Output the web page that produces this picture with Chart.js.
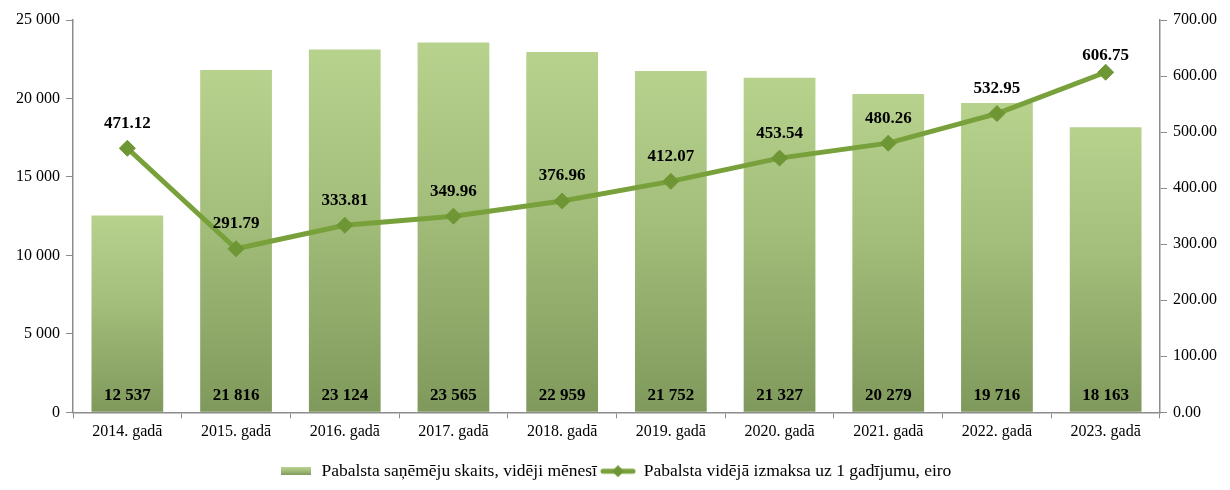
<!DOCTYPE html>
<html>
<head>
<meta charset="utf-8">
<script src="https://cdn.jsdelivr.net/npm/chart.js@4"></script>
<style>
  html, body { margin: 0; padding: 0; background: #fff; }
  #wrap { width: 1230px; height: 490px; }
</style>
</head>
<body>
<div id="wrap"><canvas id="chart"></canvas></div>
<script>
const years = ['2014. gadā', '2015. gadā', '2016. gadā', '2017. gadā', '2018. gadā',
               '2019. gadā', '2020. gadā', '2021. gadā', '2022. gadā', '2023. gadā'];
const recipients = [12537, 21816, 23124, 23565, 22959, 21752, 21327, 20279, 19716, 18163];
const avgPayment = [471.12, 291.79, 333.81, 349.96, 376.96, 412.07, 453.54, 480.26, 532.95, 606.75];
const barLabel = 'Pabalsta saņēmēju skaits, vidēji mēnesī';
const lineLabel = 'Pabalsta vidējā izmaksa uz 1 gadījumu, eiro';

const FONT = '"Liberation Serif", "Times New Roman", serif';
const LINE_COLOR = '#78a13b';
const MARK_COLOR = '#6f9635';
const AXIS_COLOR = '#8c8c8c';

const spaced = n => String(Math.round(n)).replace(/\B(?=(\d{3})+(?!\d))/g, ' ');

function barGradient(ctx, top, bottom) {
    const g = ctx.createLinearGradient(0, top, 0, bottom);
    g.addColorStop(0, '#b7d28d');
    g.addColorStop(0.45, '#a3be7a');
    g.addColorStop(1, '#7e995b');
    return g;
}

// legend swatches
const barSwatch = document.createElement('canvas');
barSwatch.width = 30; barSwatch.height = 8;
(() => {
    const c = barSwatch.getContext('2d');
    c.fillStyle = barGradient(c, 0, 8);
    c.fillRect(0, 0, 30, 8);
})();
const lineSwatch = document.createElement('canvas');
lineSwatch.width = 36; lineSwatch.height = 12;
(() => {
    const c = lineSwatch.getContext('2d');
    c.strokeStyle = LINE_COLOR; c.lineWidth = 5; c.lineCap = 'round';
    c.beginPath(); c.moveTo(3, 6); c.lineTo(33, 6); c.stroke();
    c.fillStyle = MARK_COLOR;
    c.beginPath(); c.moveTo(18, 0); c.lineTo(24, 6); c.lineTo(18, 12); c.lineTo(12, 6); c.closePath(); c.fill();
})();

const valueLabels = {
    id: 'valueLabels',
    afterDatasetsDraw(chart) {
        const ctx = chart.ctx;
        const yBase = chart.scales.y.getPixelForValue(0);
        const top = chart.chartArea.top;
        ctx.save();
        ctx.fillStyle = '#000';
        ctx.textAlign = 'center';
        ctx.textBaseline = 'middle';
        ctx.font = 'bold 17px ' + FONT;
        // dataset 1 = bars
        chart.getDatasetMeta(1).data.forEach((el, i) => {
            ctx.fillText(spaced(recipients[i]), el.x, yBase - 17);
        });
        // dataset 0 = line
        chart.getDatasetMeta(0).data.forEach((el, i) => {
            ctx.fillText(avgPayment[i].toFixed(2), el.x, Math.max(el.y - 25, top + 36));
        });
        ctx.restore();
    }
};

const ctx = document.getElementById('chart').getContext('2d');
new Chart(ctx, {
    data: {
        labels: years,
        datasets: [
            {
                type: 'line',
                label: lineLabel,
                data: avgPayment,
                yAxisID: 'y1',
                borderColor: LINE_COLOR,
                borderWidth: 5,
                tension: 0,
                pointStyle: 'rectRot',
                pointRadius: 8,
                pointBackgroundColor: MARK_COLOR,
                pointBorderColor: MARK_COLOR,
                pointBorderWidth: 1,
                order: 0
            },
            {
                type: 'bar',
                label: barLabel,
                data: recipients,
                yAxisID: 'y',
                backgroundColor: (c) => {
                    const chart = c.chart;
                    if (!chart.chartArea || c.raw == null) return '#a3be7a';
                    const ys = chart.scales.y;
                    return barGradient(chart.ctx, ys.getPixelForValue(c.raw), ys.getPixelForValue(0));
                },
                categoryPercentage: 1,
                barPercentage: 0.66,
                order: 1
            }
        ]
    },
    options: {
        responsive: true,
        maintainAspectRatio: false,
        animation: false,
        layout: {padding: {top: 20, bottom: 0, left: 0, right: 0}},
        scales: {
            x: {
                afterFit: s => { s.height += 13; },
                grid: {display: true, drawOnChartArea: false, offset: true, color: AXIS_COLOR, tickLength: 6},
                border: {color: AXIS_COLOR, width: 1.5},
                ticks: {color: '#000', font: {family: FONT, size: 16}, padding: 4, maxRotation: 0}
            },
            y: {
                position: 'left',
                min: 0, max: 25000,
                afterFit: s => { s.width = 73; },
                grid: {display: true, drawOnChartArea: false, color: AXIS_COLOR, tickLength: 7},
                border: {color: AXIS_COLOR, width: 1.5},
                ticks: {stepSize: 5000, color: '#000', font: {family: FONT, size: 16}, padding: 6,
                        callback: v => spaced(v)}
            },
            y1: {
                position: 'right',
                min: 0, max: 700,
                afterFit: s => { s.width = 70; },
                grid: {display: true, drawOnChartArea: false, color: AXIS_COLOR, tickLength: 7},
                border: {color: AXIS_COLOR, width: 1.5},
                ticks: {stepSize: 100, color: '#000', font: {family: FONT, size: 16}, padding: 6,
                        callback: v => v.toFixed(2)}
            }
        },
        plugins: {
            legend: {
                position: 'bottom',
                reverse: true,
                labels: {
                    color: '#000',
                    font: {family: FONT, size: 17.5},
                    usePointStyle: true,
                    pointStyleWidth: 34,
                    padding: 4,
                    generateLabels: chart => chart.data.datasets.map((d, i) => ({
                        text: d.label,
                        datasetIndex: i,
                        pointStyle: d.type === 'bar' ? barSwatch : lineSwatch,
                        fillStyle: 'transparent',
                        strokeStyle: 'transparent',
                        lineWidth: 0,
                        fontColor: '#000'
                    }))
                }
            },
            tooltip: {enabled: false}
        }
    },
    plugins: [valueLabels]
});
</script>
</body>
</html>
